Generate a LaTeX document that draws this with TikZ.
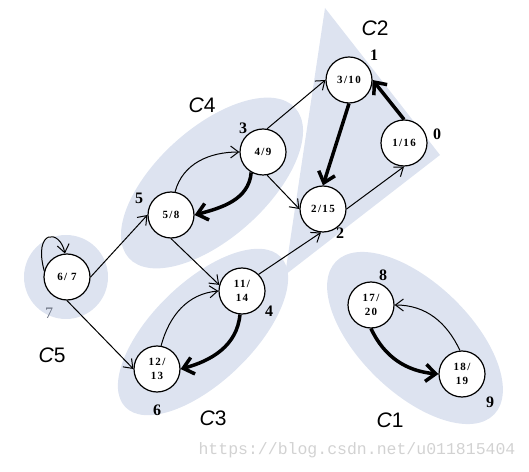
\documentclass[tikz,border=0pt]{standalone}
\usepackage{fontspec}
\setmainfont{Liberation Serif}
\setsansfont{Liberation Sans}
\setmonofont{Liberation Mono}
\newfontfamily\statefont[LetterSpace=12]{Liberation Serif}
\usetikzlibrary{arrows.meta}
\definecolor{blobfill}{RGB}{221,227,240}
\definecolor{wmgray}{RGB}{210,210,210}
\definecolor{numgray}{RGB}{105,112,128}

\begin{document}
\begin{tikzpicture}[x=1pt, y=1pt,
  state/.style={draw, circle, line width=1.2pt, fill=white, minimum size=46pt,
    inner sep=0pt, align=center, font=\statefont\fontsize{11}{14}\selectfont\bfseries},
  num/.style={font=\fontsize{16}{16}\selectfont\bfseries},
  comp/.style={font=\sffamily\fontsize{21}{21}\selectfont},
  region/.style={fill=blobfill, draw=none},
  arr/.style={-{Straight Barb[length=8pt,width=12pt]}, line width=1pt},
  heavy/.style={-{Straight Barb[length=10pt,width=17pt]}, line width=3.5pt}
]
\useasboundingbox (0,0) rectangle (529,471);
% components
\fill[region] (325,463) -- (440,316) -- (285,196) -- cycle;
\fill[region, rotate around={42:(212,288)}] (212,288) ellipse [x radius=112, y radius=55];
\fill[region, rotate around={44:(203,139)}] (203,139) ellipse [x radius=108, y radius=50];
\fill[region, rotate around={-44:(415,133)}] (415,133) ellipse [x radius=110, y radius=55];
\fill[region] (66,194) circle [radius=42];
% vertices
\node[state] (n310) at (349,391) {3/10};
\node[state] (n116) at (404,328) {1/16};
\node[state] (n215) at (323,262) {2/15};
\node[state] (n49) at (263,319) {4/9};
\node[state] (n58) at (171,256) {5/8};
\node[state] (n67) at (67,194) {6/ 7};
\node[state] (n1114) at (242,180) {11/\\14};
\node[state] (n1213) at (157,102) {12/\\13};
\node[state] (n1720) at (371,166) {17/\\20};
\node[state] (n1819) at (462,97) {18/\\19};
% finishing order
\node[num] (o1) at (374,416) {1};
\node[num] (o0) at (437,337) {0};
\node[num] (o2) at (340,238) {2};
\node[num] (o3) at (243,343) {3};
\node[num] (o5) at (139,273) {5};
\node[num, font=\fontsize{16}{16}\selectfont, text=numgray] (o7) at (49,158) {7};
\node[num] (o4) at (269,160) {4};
\node[num] (o6) at (157,61) {6};
\node[num] (o8) at (383,196) {8};
\node[num] (o9) at (490,69) {9};
\node[comp] (c2) at (375,443) {\textit{C}2};
\node[comp] (c4) at (202,366) {\textit{C}4};
\node[comp] (c5) at (52,116) {\textit{C}5};
\node[comp] (c3) at (213,53) {\textit{C}3};
\node[comp] (c1) at (390,51) {\textit{C}1};
\node[font=\ttfamily\fontsize{16.5}{16.5}\selectfont, text=wmgray] (wm) at (357,21)
  {https://blog.csdn.net/u011815404};
% edges
\draw[arr] (n67.165) .. controls (33,242) and (60,242) .. (n67.95);
\draw[arr] (n67.east) -- (n58.west);
\draw[arr] (n67.south) -- (n1213.west);
\draw[arr] (n58.80) to[out=75, in=180] (n49.west);
\draw[heavy] (n49.240) to[out=-95, in=15] (n58.east);
\draw[arr] (n58.south) -- (n1114.165);
\draw[arr] (n49.80) -- (n310.west);
\draw[arr] (n49.-80) -- (n215.west);
\draw[arr] (n1114.45) -- (n215.-95);
\draw[heavy] (n310.south) -- (n215.north);
\draw[arr] (n215.east) -- (n116.south);
\draw[heavy] (n116.north) -- (n310.east);
\draw[arr] (n1213.80) to[out=75, in=185] (n1114.west);
\draw[heavy] (n1114.265) to[out=-95, in=15] (n1213.east);
\draw[heavy] (n1720.south) to[out=-65, in=175] (n1819.west);
\draw[arr] (n1819.95) to[out=115, in=0] (n1720.east);
\end{tikzpicture}
\end{document}
